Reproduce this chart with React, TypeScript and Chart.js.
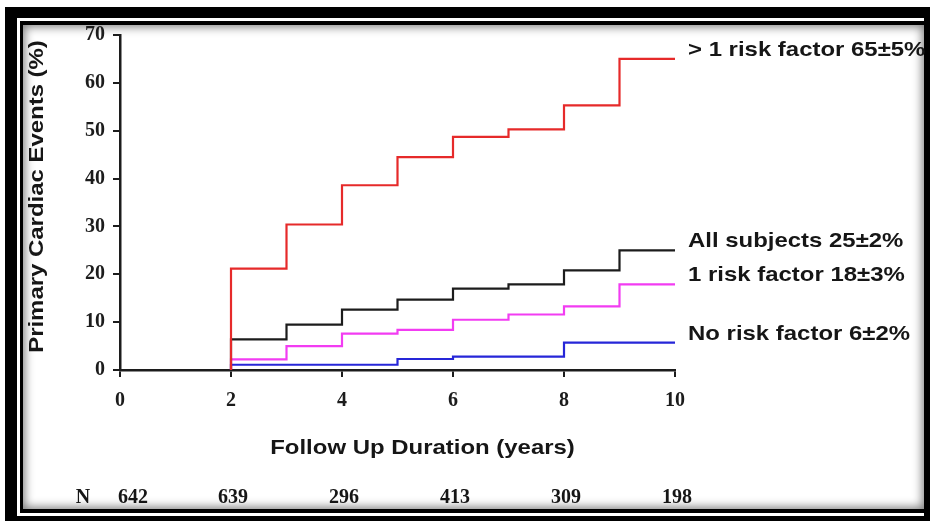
import React, { useEffect, useRef } from "react";
import { Chart, registerables } from "chart.js";

Chart.register(...registerables);

// ---- data ----
const stepYears = [2, 3, 4, 5, 6, 7, 8, 9, 10];
const moreThanOneRisk = [21.2, 30.4, 38.6, 44.5, 48.7, 50.3, 55.3, 65.0, 65.0];
const allSubjects = [6.4, 9.5, 12.6, 14.7, 17.0, 17.9, 20.8, 25.0, 25.0];
const oneRisk = [2.2, 5.0, 7.6, 8.4, 10.5, 11.6, 13.3, 17.9, 17.9];
const noRisk = [1.1, 1.1, 1.1, 2.3, 2.8, 2.8, 5.7, 5.7, 5.7];

const seriesNames = [
  "> 1 risk factor 65±5%",
  "All subjects 25±2%",
  "1 risk factor 18±3%",
  "No risk factor 6±2%",
];
const seriesColors = ["#e62a2a", "#1c1c1c", "#f23cf2", "#2626d8"];

const nYears = [0, 2, 4, 6, 8, 10];
const nAtRisk = [642, 639, 296, 413, 309, 198];

const xTitle = "Follow Up Duration (years)";
const yTitle = "Primary Cardiac Events (%)";

const SANS = "'Liberation Sans', Arial, Helvetica, sans-serif";
const SERIF = "'Liberation Serif', 'Times New Roman', serif";
const STRETCH = 1.14;

function stepData(values: number[]) {
  return [{ x: stepYears[0], y: 0 }, ...stepYears.map((x, i) => ({ x, y: values[i] }))];
}

function stretchedText(
  ctx: CanvasRenderingContext2D,
  text: string,
  x: number,
  y: number,
  align: CanvasTextAlign,
  rotate = 0
) {
  ctx.save();
  ctx.translate(x, y);
  if (rotate) ctx.rotate(rotate);
  ctx.scale(STRETCH, 1);
  ctx.textAlign = align;
  ctx.textBaseline = "alphabetic";
  ctx.fillText(text, 0, 0);
  ctx.restore();
}

const textPlugin = {
  id: "kmText",
  afterDraw(chart: any) {
    const ctx: CanvasRenderingContext2D = chart.ctx;
    const xs = chart.scales.x;
    const ys = chart.scales.y;
    const area = chart.chartArea;
    ctx.save();
    ctx.fillStyle = "#161616";

    // axis titles
    ctx.font = `bold 21px ${SANS}`;
    stretchedText(ctx, yTitle, 43, (area.top + area.bottom) / 2 - 6, "center", -Math.PI / 2);
    stretchedText(ctx, xTitle, (area.left + area.right) / 2 + 25, area.bottom + 84, "center");

    // series end labels
    const finals = [moreThanOneRisk, allSubjects, oneRisk, noRisk].map((a) => a[a.length - 1]);
    finals.forEach((v, i) => {
      stretchedText(ctx, seriesNames[i], area.right + 13, ys.getPixelForValue(v) - 3, "left");
    });

    // number at risk row
    ctx.font = `bold 20px ${SERIF}`;
    ctx.textBaseline = "alphabetic";
    ctx.textAlign = "center";
    const rowY = area.bottom + 133;
    ctx.fillText("N", area.left - 37, rowY);
    nAtRisk.forEach((n, i) => {
      const txt = String(n);
      const w = ctx.measureText(txt).width;
      const px = Math.max(xs.getPixelForValue(nYears[i]) + 2, area.left + w / 2 - 2);
      ctx.fillText(txt, px, rowY);
    });
    ctx.restore();
  },
};

export default function App() {
  const ref = useRef<HTMLCanvasElement | null>(null);

  useEffect(() => {
    if (!ref.current) return;
    const series = [moreThanOneRisk, allSubjects, oneRisk, noRisk];
    const chart = new Chart(ref.current, {
      type: "line",
      data: {
        datasets: series.map((s, i) => ({
          label: seriesNames[i],
          data: stepData(s),
          borderColor: seriesColors[i],
          backgroundColor: seriesColors[i],
          borderWidth: 2.2,
          pointRadius: 0,
          fill: false,
          stepped: "before" as const,
          tension: 0,
        })),
      },
      options: {
        responsive: false,
        animation: false,
        devicePixelRatio: 1,
        layout: { padding: { left: 0, top: 35, right: 255, bottom: 0 } },
        plugins: { legend: { display: false }, tooltip: { enabled: false } },
        events: [],
        scales: {
          x: {
            type: "linear",
            min: 0,
            max: 10,
            afterFit: (s: any) => {
              s.height = 151;
            },
            ticks: {
              stepSize: 2,
              autoSkip: false,
              maxRotation: 0,
              padding: 12,
              color: "#1c1c1c",
              font: { family: SERIF, weight: "bold", size: 20 },
            },
            grid: {
              drawOnChartArea: false,
              drawTicks: true,
              tickLength: 7,
              color: "#1c1c1c",
              lineWidth: 2,
            },
            border: { display: true, color: "#1c1c1c", width: 2.5 },
          },
          y: {
            type: "linear",
            min: 0,
            max: 70,
            afterFit: (s: any) => {
              s.width = 120;
            },
            ticks: {
              stepSize: 10,
              autoSkip: false,
              padding: 8,
              color: "#1c1c1c",
              font: { family: SERIF, weight: "bold", size: 20 },
            },
            grid: {
              drawOnChartArea: false,
              drawTicks: true,
              tickLength: 7,
              color: "#1c1c1c",
              lineWidth: 2,
            },
            border: { display: true, color: "#1c1c1c", width: 2.5 },
          },
        },
      },
      plugins: [textPlugin],
    } as any);
    return () => chart.destroy();
  }, []);

  return (
    <div
      style={{
        position: "fixed",
        left: 0,
        top: 0,
        width: 930,
        height: 521,
        background: "#fff",
        overflow: "hidden",
      }}
    >
      <div style={{ position: "absolute", left: 5, top: 7, width: 930, height: 520, background: "#000" }} />
      <div style={{ position: "absolute", left: 17, top: 18, width: 907, height: 498, background: "#fff" }} />
      <div style={{ position: "absolute", left: 20, top: 21, width: 904, height: 492, background: "#000" }} />
      <div
        style={{
          position: "absolute",
          left: 23,
          top: 25,
          width: 901,
          height: 484,
          background: "#fff",
          boxShadow: "inset 0 0 10px 2px rgba(0,0,0,0.5)",
        }}
      />
      <canvas
        ref={ref}
        width={930}
        height={521}
        style={{ position: "absolute", left: 0, top: 0, width: 930, height: 521 }}
      />
    </div>
  );
}
